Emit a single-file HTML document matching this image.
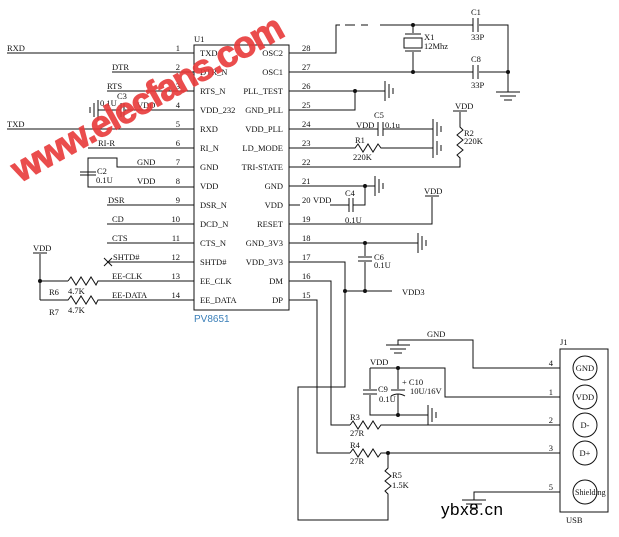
<!DOCTYPE html>
<html><head><meta charset="utf-8"><style>
html,body{margin:0;padding:0;background:#fff}
svg{display:block}
text{font-family:"Liberation Serif",serif;font-size:8.5px;fill:#111}
.w{stroke:#111;stroke-width:1;fill:none}
</style></head><body>
<svg width="619" height="537" viewBox="0 0 619 537" xmlns="http://www.w3.org/2000/svg">
<defs>
<g id="gv"><line x1="0" y1="-10" x2="0" y2="10" class="w" stroke-width="1.5"/><line x1="4" y1="-7" x2="4" y2="7" class="w"/><line x1="8" y1="-3" x2="8" y2="3" class="w"/></g>
<g id="gd"><line x1="-12" y1="0" x2="12" y2="0" class="w"/><line x1="-8" y1="4" x2="8" y2="4" class="w"/><line x1="-4" y1="8" x2="4" y2="8" class="w"/></g>
</defs>
<!-- chip -->
<rect x="194" y="45" width="95" height="265" class="w"/>
<text x="194" y="42">U1</text>
<text x="194" y="322" style="fill:#3a7fb8;font-family:'Liberation Sans',sans-serif;font-size:10px">PV8651</text>
<g>
<text x="200" y="56">TXD</text><text x="200" y="75">DTR_N</text><text x="200" y="94">RTS_N</text><text x="200" y="113">VDD_232</text><text x="200" y="132">RXD</text><text x="200" y="151">RI_N</text><text x="200" y="170">GND</text><text x="200" y="189">VDD</text><text x="200" y="208">DSR_N</text><text x="200" y="227">DCD_N</text><text x="200" y="246">CTS_N</text><text x="200" y="265">SHTD#</text><text x="200" y="284">EE_CLK</text><text x="200" y="303">EE_DATA</text>
</g>
<g text-anchor="end">
<text x="283" y="56">OSC2</text><text x="283" y="75">OSC1</text><text x="283" y="94">PLL_TEST</text><text x="283" y="113">GND_PLL</text><text x="283" y="132">VDD_PLL</text><text x="283" y="151">LD_MODE</text><text x="283" y="170">TRI-STATE</text><text x="283" y="189">GND</text><text x="283" y="208">VDD</text><text x="283" y="227">RESET</text><text x="283" y="246">GND_3V3</text><text x="283" y="265">VDD_3V3</text><text x="283" y="284">DM</text><text x="283" y="303">DP</text>
</g>
<!-- left pins -->
<g class="w">
<line x1="7" y1="53" x2="194" y2="53"/><line x1="112" y1="72" x2="194" y2="72"/><line x1="107" y1="91" x2="194" y2="91"/><line x1="125" y1="110" x2="194" y2="110"/><line x1="7" y1="129" x2="194" y2="129"/><line x1="88" y1="148" x2="194" y2="148"/>
<polyline points="194,167 117,167 117,158 88,158 88,187 194,187"/>
<line x1="80" y1="172" x2="96" y2="172"/><line x1="80" y1="175" x2="96" y2="175"/>
<line x1="107" y1="205" x2="194" y2="205"/><line x1="107" y1="224" x2="194" y2="224"/><line x1="107" y1="243" x2="194" y2="243"/><line x1="107" y1="262" x2="194" y2="262"/>
<line x1="104" y1="258" x2="112" y2="266"/><line x1="104" y1="266" x2="112" y2="258"/>
<polyline points="40,254 40,281 68,281"/><line x1="40" y1="281" x2="40" y2="300"/>
<line x1="33" y1="253" x2="47" y2="253"/>
<polyline points="68,281 71,277 76,285 81,277 86,285 91,277 96,285 98,281 194,281"/>
<polyline points="40,300 68,300 71,296 76,304 81,296 86,304 91,296 96,304 98,300 194,300"/>
<line x1="121" y1="103" x2="121" y2="117"/><line x1="124" y1="103" x2="124" y2="117"/>
<line x1="98" y1="110" x2="121" y2="110"/>
</g>
<use href="#gv" transform="translate(98,110) scale(-1,1)"/>
<circle cx="40" cy="281" r="2" fill="#111"/>
<g text-anchor="end">
<text x="180" y="51">1</text><text x="180" y="70">2</text><text x="180" y="89">3</text><text x="180" y="108">4</text><text x="180" y="127">5</text><text x="180" y="146">6</text><text x="180" y="165">7</text><text x="180" y="184">8</text><text x="180" y="203">9</text><text x="180" y="222">10</text><text x="180" y="241">11</text><text x="180" y="260">12</text><text x="180" y="279">13</text><text x="180" y="298">14</text>
</g>
<text x="7" y="51">RXD</text><text x="112" y="70">DTR</text><text x="107" y="89">RTS</text><text x="137" y="108">VDD</text><text x="100" y="106">0.1U</text><text x="117" y="99">C3</text><text x="7" y="127">TXD</text><text x="98" y="146">RI-R</text><text x="137" y="165">GND</text><text x="137" y="184">VDD</text><text x="97" y="174">C2</text><text x="96" y="183">0.1U</text><text x="108" y="203">DSR</text><text x="112" y="222">CD</text><text x="112" y="241">CTS</text><text x="113" y="260">SHTD#</text><text x="33" y="251">VDD</text><text x="112" y="279">EE-CLK</text><text x="112" y="298">EE-DATA</text><text x="68" y="294">4.7K</text><text x="68" y="313">4.7K</text><text x="49" y="295">R6</text><text x="49" y="315">R7</text>
<!-- right pins -->
<g class="w">
<polyline points="289,53 336,53 336,25 340,25"/><line x1="345" y1="25" x2="368" y2="25" stroke-dasharray="10,6"/>
<polyline points="380,25 473,25"/><polyline points="479,25 508,25 508,72"/>
<line x1="473" y1="18" x2="473" y2="32"/><line x1="478" y1="18" x2="478" y2="32"/>
<line x1="289" y1="72" x2="473" y2="72"/><line x1="479" y1="72" x2="508" y2="72"/>
<line x1="473" y1="65" x2="473" y2="79"/><line x1="478" y1="65" x2="478" y2="79"/>
<line x1="413" y1="25" x2="413" y2="33"/><line x1="405" y1="34" x2="421" y2="34"/><rect x="404" y="38" width="18" height="10"/><line x1="405" y1="51" x2="421" y2="51"/><line x1="413" y1="52" x2="413" y2="72"/>
<line x1="508" y1="72" x2="508" y2="92"/>
<line x1="289" y1="91" x2="385" y2="91"/><polyline points="289,110 355,110 355,91"/>
<line x1="289" y1="129" x2="378" y2="129"/><line x1="383" y1="129" x2="433" y2="129"/>
<line x1="378" y1="122" x2="378" y2="136"/><line x1="383" y1="122" x2="383" y2="136"/>
<polyline points="289,148 355,148 358,144 363,152 368,144 373,152 378,144 381,148 433,148"/>
<polyline points="289,167 460,167 460,158 457,155 463,150 457,145 463,140 457,135 463,130 460,127 460,112"/>
<line x1="453" y1="111" x2="467" y2="111"/>
<line x1="289" y1="186" x2="375" y2="186"/>
<polyline points="330,205 349,205"/><polyline points="353,205 365,205 365,186"/>
<line x1="349" y1="198" x2="349" y2="212"/><line x1="353" y1="198" x2="353" y2="212"/>
<line x1="289" y1="205" x2="300" y2="205"/>
<polyline points="289,224 432,224 432,197"/><line x1="425" y1="196" x2="439" y2="196"/>
<line x1="289" y1="243" x2="418" y2="243"/>
<polyline points="365,243 365,256"/><line x1="358" y1="257" x2="372" y2="257"/><line x1="358" y1="261" x2="372" y2="261"/><line x1="365" y1="262" x2="365" y2="291"/>
<polyline points="289,262 345,262 345,387 298,387 298,520 388,520 388,497"/>
<polyline points="289,281 331,281 331,425 350,425"/>
<polyline points="289,300 317,300 317,453 350,453"/>
<line x1="345" y1="291" x2="392" y2="291"/>
<polyline points="350,425 353,421 358,429 363,421 368,429 373,421 378,429 381,425 560,425"/>
<polyline points="350,453 353,449 358,457 363,449 368,457 373,449 378,457 381,453 560,453"/>
<polyline points="388,453 388,468 385,471 391,476 385,481 391,486 385,491 388,494 388,497"/>
<polyline points="398,345 398,340 473,340 473,368 560,368"/>
<polyline points="370,368 445,368 445,397 560,397"/>
<polyline points="370,368 370,389"/><line x1="363" y1="390" x2="377" y2="390"/><line x1="363" y1="394" x2="377" y2="394"/><polyline points="370,395 370,415 428,415"/>
<line x1="398" y1="368" x2="398" y2="389"/><line x1="391" y1="390" x2="405" y2="390"/><path d="M391,396 Q398,392 405,396"/><line x1="398" y1="394" x2="398" y2="415"/>
<polyline points="474,500 474,492 560,492"/>
<rect x="560" y="349" width="48" height="163"/>
<circle cx="585" cy="368" r="12"/><circle cx="585" cy="397" r="12"/><circle cx="585" cy="425" r="12"/><circle cx="585" cy="453" r="12"/><circle cx="585" cy="492" r="12"/>
</g>
<use href="#gv" transform="translate(385,91)"/>
<use href="#gv" transform="translate(433,129)"/>
<use href="#gv" transform="translate(433,148)"/>
<use href="#gv" transform="translate(375,186)"/>
<use href="#gv" transform="translate(418,243)"/>
<use href="#gv" transform="translate(428,415)"/>
<use href="#gd" transform="translate(508,92)"/>
<use href="#gd" transform="translate(398,345)"/>
<use href="#gd" transform="translate(474,500)"/>
<g fill="#111">
<circle cx="413" cy="25" r="2"/><circle cx="413" cy="72" r="2"/><circle cx="508" cy="72" r="2"/><circle cx="355" cy="91" r="2"/><circle cx="365" cy="186" r="2"/><circle cx="365" cy="243" r="2"/><circle cx="365" cy="291" r="2"/><circle cx="345" cy="291" r="2"/><circle cx="398" cy="368" r="2"/><circle cx="398" cy="415" r="2"/><circle cx="388" cy="453" r="2"/>
</g>
<g>
<text x="302" y="51">28</text><text x="302" y="70">27</text><text x="302" y="89">26</text><text x="302" y="108">25</text><text x="302" y="127">24</text><text x="302" y="146">23</text><text x="302" y="165">22</text><text x="302" y="184">21</text><text x="302" y="203">20</text><text x="302" y="222">19</text><text x="302" y="241">18</text><text x="302" y="260">17</text><text x="302" y="279">16</text><text x="302" y="298">15</text>
<text x="313" y="203">VDD</text>
<text x="424" y="40">X1</text><text x="424" y="49">12Mhz</text>
<text x="471" y="15">C1</text><text x="471" y="40">33P</text><text x="471" y="62">C8</text><text x="471" y="88">33P</text>
<text x="455" y="109">VDD</text><text x="464" y="136">R2</text><text x="464" y="144">220K</text>
<text x="374" y="118">C5</text><text x="356" y="128">VDD</text><text x="385" y="128">0.1u</text>
<text x="355" y="143">R1</text><text x="353" y="160">220K</text>
<text x="345" y="196">C4</text><text x="345" y="223">0.1U</text>
<text x="424" y="194">VDD</text>
<text x="374" y="260">C6</text><text x="374" y="268">0.1U</text>
<text x="402" y="295">VDD3</text>
<text x="427" y="337">GND</text><text x="370" y="365">VDD</text>
<text x="378" y="392">C9</text><text x="379" y="402">0.1U</text>
<text x="402" y="385">+ C10</text><text x="410" y="394">10U/16V</text>
<text x="350" y="420">R3</text><text x="350" y="436">27R</text>
<text x="350" y="448">R4</text><text x="350" y="464">27R</text>
<text x="392" y="478">R5</text><text x="392" y="488">1.5K</text>
<text x="560" y="345">J1</text><text x="566" y="523">USB</text>
<text x="553" y="366" text-anchor="end">4</text><text x="553" y="395" text-anchor="end">1</text><text x="553" y="423" text-anchor="end">2</text><text x="553" y="451" text-anchor="end">3</text><text x="553" y="490" text-anchor="end">5</text>
<text x="585" y="371" text-anchor="middle">GND</text><text x="585" y="400" text-anchor="middle">VDD</text><text x="585" y="428" text-anchor="middle">D-</text><text x="585" y="456" text-anchor="middle">D+</text><text x="575" y="495" style="font-size:8px">Shielding</text>
</g>
<text x="441" y="515" textLength="62" style="font-family:'Liberation Sans',sans-serif;font-size:17px;fill:#000">ybx8.cn</text>
<text x="0" y="0" transform="translate(20,183) rotate(-29)" textLength="305" style="font-family:'Liberation Sans',sans-serif;font-weight:bold;font-size:37px;fill:#e83a3a;stroke:#e83a3a;stroke-width:1;opacity:0.9">www.elecfans.com</text>
</svg>
</body></html>
